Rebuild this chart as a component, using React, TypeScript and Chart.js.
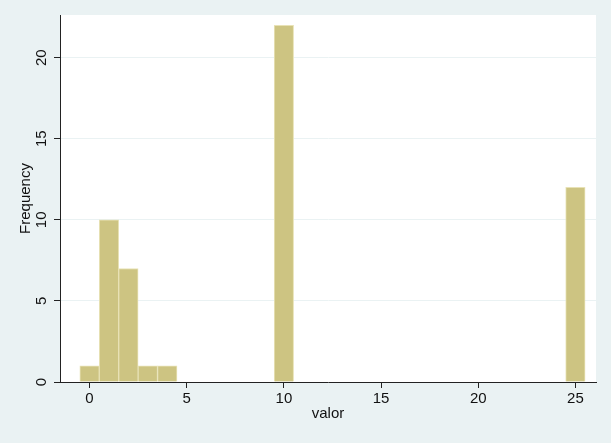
import { useEffect, useRef } from 'react';
import { Chart, registerables } from 'chart.js';
Chart.register(...registerables);

const binCenters = [0, 1, 2, 3, 4, 10, 25];
const frequencies = [1, 10, 7, 1, 1, 22, 12];
const xTickValues = [0, 5, 10, 15, 20, 25];
const yTickValues = [0, 5, 10, 15, 20];
const xTitle = 'valor';
const yTitle = 'Frequency';

const FONT = { family: "'Liberation Sans', Arial, sans-serif", size: 15 };

export default function App() {
  const ref = useRef<HTMLCanvasElement>(null);
  useEffect(() => {
    document.body.style.margin = '0';
    const bg = {
      id: 'bg',
      beforeDraw(chart: any) {
        const { ctx, chartArea: a, width, height } = chart;
        ctx.save();
        ctx.fillStyle = '#eaf2f3';
        ctx.fillRect(0, 0, width, height);
        ctx.fillStyle = '#ffffff';
        ctx.fillRect(a.left, a.top, a.right - a.left, a.bottom - a.top);
        ctx.restore();
      },
    };
    const chart = new Chart(ref.current as HTMLCanvasElement, {
      type: 'bar',
      data: {
        datasets: [
          {
            data: binCenters.map((x, i) => ({ x, y: frequencies[i] })),
            backgroundColor: 'rgb(205,196,130)',
            borderColor: 'rgb(232,226,182)',
            borderWidth: 1,
            barPercentage: 1,
            categoryPercentage: 1,
          } as any,
        ],
      },
      options: {
        animation: false,
        responsive: false,
        maintainAspectRatio: false,
        layout: { padding: { top: 15, right: 15, left: 0, bottom: 0 } },
        plugins: { legend: { display: false }, tooltip: { enabled: false } },
        scales: {
          x: {
            type: 'linear',
            min: -1.52,
            max: 26.06,
            offset: false,
            afterFit: (s: any) => { s.height = 61; },
            afterBuildTicks: (s: any) => { s.ticks = xTickValues.map((v) => ({ value: v })); },
            grid: { drawOnChartArea: false, offset: false, tickLength: 6, tickColor: '#222' },
            border: { color: '#222', width: 1 },
            ticks: { padding: 2, color: '#111', font: FONT, maxRotation: 0, minRotation: 0 },
            title: { display: true, text: xTitle, color: '#111', font: FONT, padding: { top: 0, bottom: 20 } },
          },
          y: {
            type: 'linear',
            min: 0,
            max: 22.63,
            afterFit: (s: any) => { s.width = 60; },
            afterBuildTicks: (s: any) => { s.ticks = yTickValues.map((v) => ({ value: v })); },
            grid: { color: '#eaf2f3', tickLength: 6, tickColor: '#222', lineWidth: 1 },
            border: { color: '#222', width: 1 },
            ticks: { padding: 4, color: '#111', font: FONT, minRotation: 90, maxRotation: 90, crossAlign: 'center' },
            title: { display: true, text: yTitle, color: '#111', font: FONT, padding: { top: 17, bottom: 0 } },
          },
        },
      } as any,
      plugins: [bg],
    });
    return () => chart.destroy();
  }, []);
  return <canvas ref={ref} width={611} height={443} style={{ display: 'block' }} />;
}
